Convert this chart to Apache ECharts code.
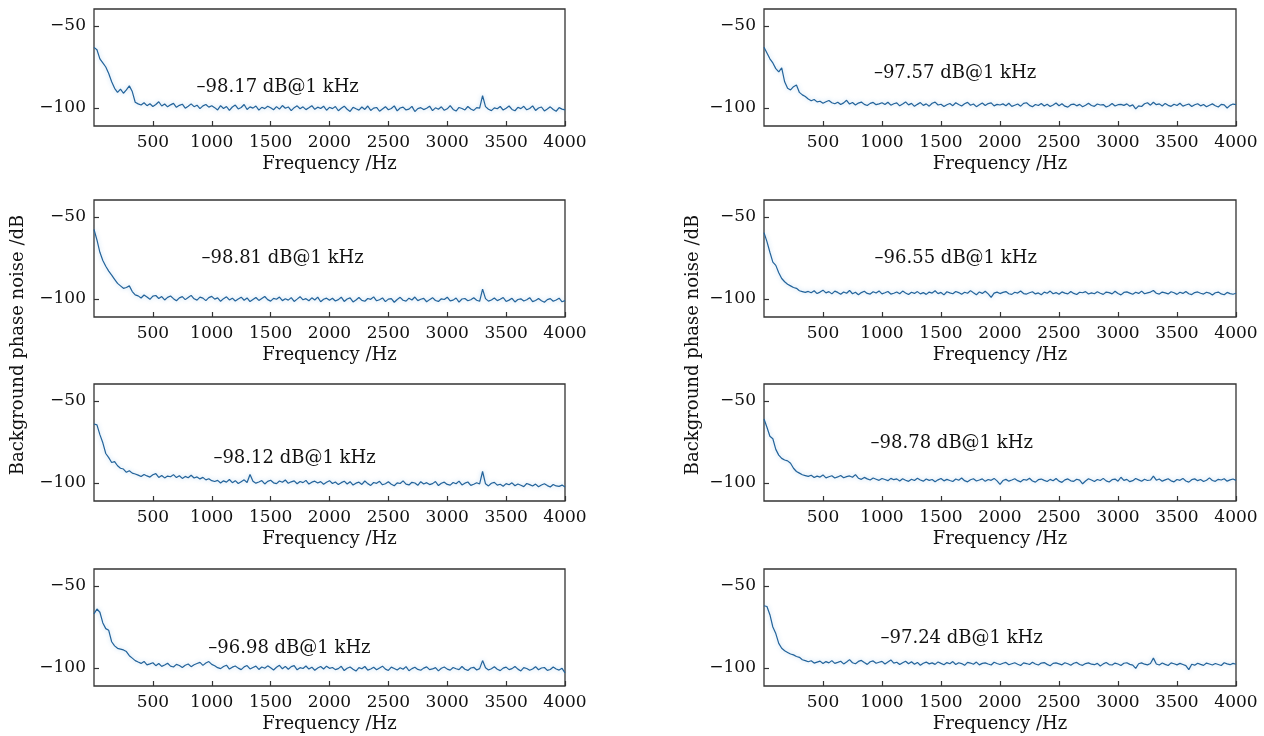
<!DOCTYPE html>
<html>
<head>
<meta charset="utf-8">
<script src="https://cdn.jsdelivr.net/npm/echarts@6/dist/echarts.min.js"></script>
<style>
html,body{margin:0;padding:0;background:#fff;}
#chart{width:1264px;height:736px;}
</style>
</head>
<body>
<div id="chart"></div>
<script>
// Frequency step of the sampled traces (Hz) and axis ticks
const freqStep = 25;
const yTicks = [-100, -50];
const xAxisTitle = 'Frequency /Hz';
const yAxisTitle = 'Background phase noise /dB';

// Panel annotations (left column top→bottom, then right column top→bottom)
const annotations = ['–98.17 dB@1 kHz', '–98.81 dB@1 kHz', '–98.12 dB@1 kHz', '–96.98 dB@1 kHz',
                     '–97.57 dB@1 kHz', '–96.55 dB@1 kHz', '–98.78 dB@1 kHz', '–97.24 dB@1 kHz'];

// Series values (dB), one value every 25 Hz from 0 to 4000 Hz
const noiseL1 = [-63,-64.5,-70,-72.5,-75,-79,-84,-88,-90.5,-88.5,-91,-89,-86.5,-90,-96.5,
-97.5,-98.2,-96.8,-98.6,-97.4,-99.1,-97.9,-96.2,-98.8,-97.6,-99.3,-98.1,-97.2,-99.6,-98.4,-97.7,-100.1,-98.9,-97.5,-99.2,-98.3,-100.4,-98.7,-97.9,-99.5,-98.6,
-99.8,-101.2,-98.6,-100.3,-99.1,-101.5,-99.4,-98.2,-100.6,-99.7,-97.9,-100.9,-99.3,-100.1,-98.8,-101.3,-99.6,-100.4,-98.9,-99.9,-101.1,-99.2,-100.7,-98.5,-100.2,-99.4,-101.6,-99.8,-98.7,-100.5,-99.3,-101.0,-99.9,-98.6,-100.8,-99.5,-100.3,-98.9,-101.4,-99.6,
-100.4,-99.1,-101.7,-100.2,-98.9,-100.8,-102.1,-99.6,-100.5,-101.3,-99.4,-100.9,-98.8,-101.5,-100.1,-99.7,-102.0,-100.6,-99.2,-101.1,-100.3,-98.7,-101.8,-100.0,-99.5,-101.2,-100.7,-99.0,-102.2,-100.4,-99.8,-101.0,-100.2,-98.9,-101.6,-99.9,-100.8,-99.3,-101.4,-100.5,-98.6,-100.9,-101.9,-99.7,-100.3,-101.2,-99.1,-100.6,-101.5,-99.8,-100.1,
-92.5,
-99.2,-100.8,-101.6,-99.9,-100.5,-99.1,-101.3,-100.2,-98.8,-100.9,-101.7,-99.6,-100.4,-99.0,-101.1,-100.3,-98.7,-101.5,-100.0,-99.4,-101.8,-100.6,-99.3,-100.9,-102.0,-99.8,-100.7,-101.2];

const noiseL2 = [-57.5,-64,-71.5,-76.5,-80,-83,-85.5,-88,-90.5,-92,-93.5,-93,-92,-95.5,-97.5,
-98.1,-99.4,-97.6,-98.8,-100.2,-98.3,-97.9,-99.7,-98.5,-100.6,-99.0,-98.2,-99.8,-101.1,-99.3,-98.6,-100.4,-99.1,-97.8,-99.9,-100.7,-98.9,-99.5,-101.0,-99.2,-98.4,
-100.1,-99.3,-101.4,-99.8,-98.7,-100.6,-99.5,-101.2,-100.0,-98.9,-100.8,-99.4,-101.6,-100.3,-99.1,-100.9,-99.7,-98.5,-100.4,-101.3,-99.6,-100.2,-98.8,-101.0,-99.9,-100.7,-99.2,-101.5,-100.1,-98.6,-100.5,-99.8,-101.1,-99.3,-100.6,-98.9,-101.7,-100.2,-99.5,-100.8,
-99.6,-101.2,-100.4,-98.9,-101.5,-100.0,-99.3,-101.8,-100.6,-99.1,-100.9,-101.4,-99.7,-100.2,-98.7,-101.1,-100.5,-99.4,-101.6,-100.1,-99.8,-102.0,-100.3,-99.0,-100.8,-101.3,-99.5,-100.6,-98.8,-101.0,-100.2,-99.6,-101.7,-100.4,-99.2,-100.9,-101.5,-99.9,-100.3,-98.9,-101.2,-100.7,-99.4,-101.9,-100.0,-99.7,-101.1,-100.5,-99.3,-100.8,-101.4,
-94,
-99.8,-101.3,-100.6,-99.4,-101.0,-100.2,-99.1,-101.5,-100.7,-99.6,-101.8,-100.3,-99.9,-101.2,-100.5,-99.2,-101.6,-100.9,-99.7,-101.1,-102.0,-100.4,-99.8,-101.4,-100.6,-99.5,-101.7,-101.0];

const noiseL3 = [-64,-64.5,-70.5,-75.5,-82,-84.5,-87.5,-87,-89.5,-91,-91.5,-93.5,-92.5,-94,-94.5,
-95.2,-96.1,-94.8,-95.7,-96.4,-95.0,-94.3,-96.6,-95.4,-96.9,-95.8,-96.2,-94.9,-96.7,-95.6,-97.2,-96.0,-96.8,-95.3,-97.0,-96.3,-97.5,-96.6,-98.1,-97.4,-98.6,
-99.1,-98.4,-100.0,-98.7,-99.5,-97.9,-99.8,-98.6,-100.3,-99.2,-98.1,-99.7,-94.8,-98.9,-100.1,-99.4,-98.5,-100.6,-99.0,-98.3,-99.9,-100.4,-98.8,-99.6,-98.2,-100.2,-99.3,-98.7,-100.5,-99.1,-99.8,-98.4,-100.7,-99.5,-98.9,-100.0,-99.2,-100.8,-99.6,-98.6,
-100.3,-99.4,-101.0,-99.8,-98.9,-100.6,-99.2,-101.3,-100.1,-99.5,-100.9,-98.8,-100.4,-101.5,-99.7,-100.2,-99.0,-101.1,-100.5,-99.3,-100.8,-101.7,-99.9,-100.3,-98.7,-100.7,-101.2,-99.6,-100.0,-101.4,-99.2,-100.6,-99.8,-101.0,-100.4,-99.1,-101.6,-100.2,-99.5,-100.9,-101.3,-99.7,-100.5,-98.9,-101.2,-100.1,-99.4,-101.5,-100.8,-99.9,-100.6,
-93,
-100.5,-101.8,-100.2,-99.6,-101.3,-100.8,-102.0,-100.4,-101.1,-99.9,-101.7,-100.6,-101.4,-102.2,-100.3,-101.0,-101.9,-100.7,-102.3,-101.2,-100.5,-101.6,-102.5,-100.9,-101.8,-102.1,-101.3,-102.4];

const noiseL4 = [-67,-64,-66,-72.5,-76,-77,-84,-86.5,-88,-88.5,-89,-90,-92.5,-94,-95.5,
-96.4,-97.2,-96.0,-98.1,-97.5,-96.8,-98.6,-97.3,-99.0,-98.2,-97.1,-98.9,-99.4,-97.8,-98.5,-99.7,-98.3,-97.6,-99.2,-98.0,-97.3,-96.6,-98.4,-97.0,-96.1,-97.8,
-98.6,-99.8,-100.4,-99.1,-98.3,-100.7,-99.5,-98.8,-100.1,-101.0,-99.3,-98.5,-100.6,-99.7,-98.9,-100.9,-99.4,-100.2,-98.7,-99.9,-101.2,-99.6,-98.4,-100.5,-99.0,-100.8,-99.2,-98.6,-101.1,-99.8,-100.3,-98.8,-100.7,-99.5,-101.4,-100.0,-99.1,-100.6,-98.9,-100.2,
-99.7,-101.0,-100.4,-99.0,-101.6,-100.2,-99.4,-100.8,-101.9,-99.8,-100.5,-99.1,-101.3,-100.6,-99.6,-101.1,-100.0,-98.9,-100.7,-101.5,-99.5,-100.3,-101.2,-99.9,-100.8,-99.2,-101.7,-100.4,-99.6,-100.9,-101.4,-100.1,-99.3,-101.0,-100.6,-99.8,-101.8,-100.2,-99.4,-100.7,-101.3,-99.7,-100.5,-101.0,-99.1,-100.8,-101.5,-100.0,-99.6,-101.2,-100.4,
-95.5,
-99.9,-101.2,-100.5,-99.3,-100.8,-101.6,-100.1,-99.5,-101.0,-100.4,-99.1,-100.7,-101.8,-99.8,-100.3,-101.4,-100.6,-99.2,-101.1,-100.0,-99.7,-101.5,-100.9,-99.4,-100.6,-101.3,-100.2,-103.0];

const noiseR1 = [-63,-66.5,-70,-72.5,-76,-78,-75.5,-84,-88,-89,-87,-86,-90.5,-92,-93,
-94.5,-95.6,-94.8,-96.3,-95.9,-97.1,-96.2,-95.4,-96.8,-97.4,-96.5,-97.9,-96.9,-95.3,-97.6,-96.7,-98.2,-97.0,-96.4,-97.8,-98.5,-97.2,-96.6,-98.0,-97.5,-96.8,
-97.9,-96.5,-98.3,-97.4,-96.9,-98.7,-97.6,-96.3,-98.1,-97.2,-99.0,-97.8,-96.7,-98.4,-97.5,-98.9,-97.1,-96.4,-98.2,-97.7,-99.1,-98.0,-97.3,-98.6,-96.8,-97.9,-98.8,-97.4,-96.6,-98.3,-97.6,-99.2,-98.1,-97.0,-98.5,-97.3,-96.9,-98.7,-97.8,-98.2,
-97.5,-98.6,-97.1,-99.0,-98.3,-97.6,-98.9,-97.2,-96.8,-98.4,-99.3,-97.9,-98.5,-97.3,-98.8,-97.7,-99.1,-98.2,-97.0,-98.6,-97.4,-98.9,-99.5,-98.0,-97.6,-98.7,-97.8,-99.2,-98.3,-97.1,-98.5,-99.0,-97.6,-98.2,-97.9,-99.4,-98.6,-97.3,-98.8,-98.0,-97.8,-98.4,-97.5,-98.9,-98.1,-100.6,-98.7,-99.1,-97.4,-96.8,-98.3,
-96.5,
-98.0,-97.5,-98.8,-97.2,-98.4,-99.0,-97.7,-98.5,-97.1,-98.9,-98.2,-97.6,-99.1,-98.0,-97.4,-98.7,-97.9,-99.3,-98.3,-97.5,-98.6,-99.4,-97.8,-98.1,-100.0,-98.4,-97.6,-97.9];

const noiseR2 = [-59.5,-65,-71.5,-77.5,-79.5,-84,-87.5,-89.5,-91,-92,-93,-93.5,-95,-95.5,-96,
-95.4,-96.2,-95.0,-96.7,-95.8,-94.6,-96.3,-95.5,-96.9,-95.2,-96.0,-97.1,-95.7,-96.5,-94.8,-96.8,-95.9,-97.4,-96.1,-95.3,-96.6,-97.0,-95.6,-96.4,-95.1,-96.9,
-96.2,-95.4,-97.0,-96.5,-95.7,-96.8,-95.2,-96.3,-97.3,-95.9,-96.6,-95.5,-96.9,-96.1,-97.2,-95.8,-96.4,-95.0,-96.7,-96.0,-97.5,-95.6,-96.3,-96.8,-95.4,-96.1,-97.1,-95.9,-96.5,-94.9,-96.2,-97.4,-95.7,-96.6,-95.3,-96.9,-99.0,-96.4,-95.8,-96.7,
-96.0,-95.5,-96.8,-97.2,-95.9,-96.4,-95.1,-96.7,-97.0,-96.2,-95.6,-96.9,-96.3,-97.4,-95.8,-96.5,-95.2,-96.8,-96.1,-97.1,-95.7,-96.4,-96.9,-95.4,-96.6,-97.3,-95.9,-96.2,-95.5,-97.0,-96.3,-96.8,-95.6,-96.5,-97.2,-95.8,-96.1,-96.9,-95.3,-96.7,-97.5,-96.0,-95.7,-96.4,-97.1,-95.9,-96.6,-95.2,-96.8,-96.3,-95.8,
-94.8,
-96.5,-97.0,-95.8,-96.3,-96.9,-95.6,-96.2,-97.2,-95.9,-96.6,-95.4,-96.8,-97.3,-96.1,-95.7,-96.5,-97.0,-95.9,-96.4,-97.6,-96.2,-95.8,-96.9,-97.4,-96.0,-96.7,-97.1,-96.5];

const noiseR3 = [-61,-66,-71.5,-73,-79.5,-83,-85,-86,-86.5,-88,-91,-93,-94,-95,-95.5,
-96.0,-95.3,-96.7,-95.8,-96.4,-95.1,-96.9,-96.2,-95.6,-97.0,-96.3,-95.4,-96.8,-96.1,-95.7,-96.5,-94.9,-97.1,-97.8,-96.6,-97.5,-98.2,-97.0,-97.7,-98.4,-97.3,
-97.9,-98.6,-97.2,-98.0,-97.5,-98.8,-97.4,-98.3,-99.0,-97.7,-98.5,-97.1,-98.2,-98.9,-97.6,-98.4,-97.9,-99.2,-98.1,-97.3,-98.7,-97.8,-98.5,-99.1,-97.6,-98.3,-97.0,-98.6,-99.3,-98.0,-97.4,-98.8,-98.2,-97.5,-99.0,-97.9,-98.4,-97.2,-98.7,-100.8,
-98.5,-97.8,-98.9,-98.2,-97.4,-98.6,-99.3,-97.9,-98.3,-97.1,-98.8,-99.5,-98.0,-97.6,-98.4,-99.1,-97.8,-98.6,-97.3,-98.9,-99.6,-98.1,-97.5,-98.7,-99.0,-97.7,-98.3,-100.5,-98.8,-97.4,-98.2,-99.1,-97.9,-98.5,-97.2,-98.7,-99.4,-98.0,-97.6,-98.9,-96.5,-98.4,-97.8,-99.2,-98.6,-97.3,-98.1,-99.0,-97.7,-98.5,-98.2,
-95.8,
-98.3,-97.6,-98.9,-98.1,-97.4,-98.7,-99.3,-97.9,-98.4,-97.2,-98.8,-99.5,-98.0,-97.5,-98.6,-97.9,-99.1,-98.3,-96.9,-98.5,-99.0,-97.8,-98.2,-97.4,-98.9,-98.1,-97.6,-98.4];

const noiseR4 = [-62,-62.5,-67.5,-75,-79,-85,-88,-89.5,-90.5,-91.5,-92,-93,-93.5,-95,-95.5,
-96.2,-95.6,-97.0,-96.4,-95.8,-97.3,-96.1,-96.9,-95.5,-97.2,-96.6,-95.9,-97.5,-96.3,-94.9,-96.8,-97.4,-96.0,-95.4,-96.7,-97.8,-96.2,-95.7,-97.1,-96.5,-96.0,
-97.6,-96.3,-95.1,-97.0,-96.5,-97.9,-96.8,-95.9,-97.4,-96.2,-97.7,-96.6,-98.3,-97.1,-96.4,-97.5,-96.9,-97.8,-96.3,-97.2,-98.0,-96.7,-97.4,-96.1,-97.9,-96.8,-97.3,-98.4,-96.6,-97.0,-97.7,-96.4,-98.1,-97.2,-96.9,-97.6,-98.2,-96.5,-97.3,-97.9,
-97.1,-96.6,-98.0,-97.4,-96.8,-97.7,-98.5,-96.9,-97.3,-97.9,-96.5,-97.6,-98.2,-97.0,-96.7,-97.8,-98.6,-97.2,-96.9,-97.5,-98.1,-96.8,-97.4,-98.3,-97.1,-96.6,-97.9,-98.4,-97.3,-96.9,-97.7,-98.0,-97.2,-98.8,-97.5,-96.7,-97.9,-98.2,-97.0,-97.6,-98.5,-97.1,-96.8,-97.8,-98.3,-100.2,-97.4,-96.9,-97.7,-98.1,-97.3,
-94.0,
-97.6,-98.2,-97.0,-97.8,-98.5,-96.9,-97.4,-98.1,-97.2,-97.9,-98.6,-101.0,-97.7,-98.3,-97.1,-97.8,-98.4,-97.0,-97.6,-98.2,-97.3,-97.9,-98.5,-96.8,-97.5,-98.0,-97.2,-97.7];

const panelSeries = [noiseL1, noiseL2, noiseL3, noiseL4, noiseR1, noiseR2, noiseR3, noiseR4];

// ---- layout (pixels) and styling ----
const FONT = 'DejaVu Serif';
const colLeft = [94, 764];
const colWidth = [471, 472];
const rowTop = [9, 200, 384, 569];
const rowHeight = 117;
// annotation anchor, in data units [Hz, dB]
const labelAt = [[1560, -87.2], [1602, -74.9], [1703, -85.1], [1660, -88.2],
                 [1619, -78.7], [1625, -74.9], [1591, -75.9], [1675, -82.2]];
const lineColor = '#23639a';

const grids = [], xAxes = [], yAxes = [], series = [];
panelSeries.forEach((vals, i) => {
  const col = i < 4 ? 0 : 1;
  const row = i % 4;
  grids.push({
    left: colLeft[col], top: rowTop[row], width: colWidth[col], height: rowHeight,
    show: true, borderColor: '#333', borderWidth: 1.3, backgroundColor: 'transparent'
  });
  xAxes.push({
    type: 'value', gridIndex: i, min: 0, max: 4000, interval: 500,
    name: xAxisTitle, nameLocation: 'middle', nameGap: 29,
    nameTextStyle: {fontFamily: FONT, fontSize: 18, color: '#111'},
    axisLine: {show: false},
    axisTick: {show: true, inside: true, length: 5, lineStyle: {color: '#333', width: 1.2}},
    axisLabel: {show: true, showMinLabel: false, margin: 8, fontFamily: FONT, fontSize: 17, color: '#111',
      formatter: v => String(v)},
    splitLine: {show: false}
  });
  yAxes.push({
    type: 'value', gridIndex: i, min: -111, max: -39.6,
    axisLine: {show: false},
    axisTick: {show: true, inside: true, length: 5, customValues: yTicks, lineStyle: {color: '#333', width: 1.2}},
    axisLabel: {show: true, customValues: yTicks, margin: 8, fontFamily: FONT, fontSize: 17, color: '#111',
      formatter: v => (v < 0 ? '−' : '') + Math.abs(v)},
    splitLine: {show: false}
  });
  series.push({
    type: 'line', xAxisIndex: i, yAxisIndex: i,
    data: vals.map((v, k) => [k * freqStep, v]),
    showSymbol: false, symbol: 'none', silent: true,
    lineStyle: {color: lineColor, width: 1.2, shadowColor: 'rgba(90,160,220,0.45)', shadowBlur: 4},
    markPoint: {
      silent: true, animation: false,
      data: [{coord: labelAt[i], symbol: 'circle', symbolSize: 1, itemStyle: {color: 'rgba(0,0,0,0)'},
        label: {show: true, position: 'inside', formatter: annotations[i],
          fontFamily: FONT, fontSize: 18, color: '#111'}}]
    }
  });
});

const chart = echarts.init(document.getElementById('chart'), null, {renderer: 'canvas'});
chart.setOption({
  animation: false,
  backgroundColor: '#fff',
  grid: grids, xAxis: xAxes, yAxis: yAxes, series: series,
  graphic: [
    {type: 'text', rotation: Math.PI / 2, x: 18, y: 345,
     style: {text: yAxisTitle, font: '18px "DejaVu Serif"', fill: '#111', align: 'center', verticalAlign: 'middle'}},
    {type: 'text', rotation: Math.PI / 2, x: 693, y: 345,
     style: {text: yAxisTitle, font: '18px "DejaVu Serif"', fill: '#111', align: 'center', verticalAlign: 'middle'}}
  ]
});
</script>
</body>
</html>
